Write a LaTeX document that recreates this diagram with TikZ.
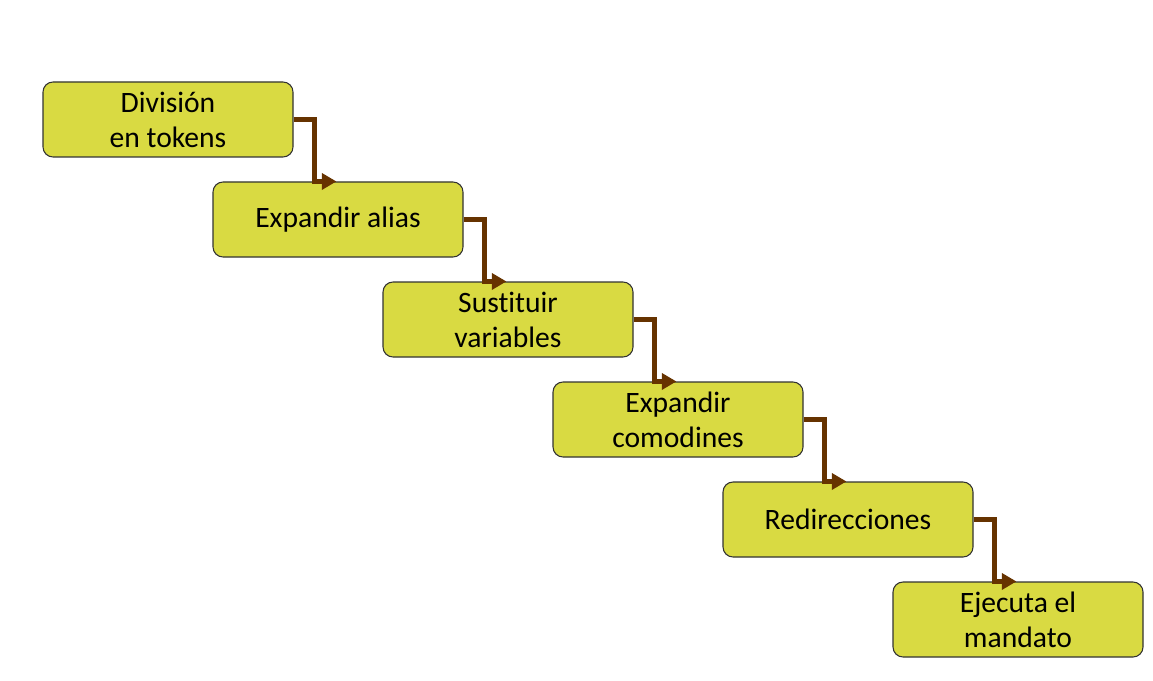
\documentclass[tikz,border=0pt]{standalone}
\usepackage{fontspec}
\setmainfont[Ligatures=NoCommon]{Carlito}
\usepackage{tikz}
\usetikzlibrary{calc}
\usetikzlibrary{arrows.meta}
\usepackage{color}
\definecolor{mustard}{RGB}{217, 218, 66}
\definecolor{umber}{RGB}{102, 51, 0}

\begin{document}
\begin{tikzpicture}[x=0.75pt, y=-0.75pt,
    stage/.style={draw=black!80, line width=0.8pt, fill=mustard, rounded corners=7.5pt,
                  minimum width=187.5pt, minimum height=56.25pt, align=center,
                  inner sep=0pt, font=\fontsize{22.2}{26.25}\selectfont},
    flow/.style={umber, line width=3.6pt, -{Triangle[length=11pt, width=12pt]}}]
            % Frame
            \useasboundingbox (0, 0) rectangle (1153, 681);
            % Stages
            \node[stage] (split)    at ( 168, 119.5) {División\\en tokens};
            \node[stage] (alias)    at ( 338, 219.5) {Expandir alias};
            \node[stage] (vars)     at ( 508, 319.5) {Sustituir\\variables};
            \node[stage] (globs)    at ( 678, 419.5) {Expandir\\comodines};
            \node[stage] (redirect) at ( 848, 519.5) {Redirecciones};
            \node[stage] (run)      at (1018, 619.5) {Ejecuta el\\mandato};
            % Steps
            \draw[flow] (split.east)    -| ($(alias.north west)+(102,0)$)    -- ($(alias.north west)+(124,0)$);
            \draw[flow] (alias.east)    -| ($(vars.north west)+(102,0)$)     -- ($(vars.north west)+(124,0)$);
            \draw[flow] (vars.east)     -| ($(globs.north west)+(102,0)$)    -- ($(globs.north west)+(124,0)$);
            \draw[flow] (globs.east)    -| ($(redirect.north west)+(102,0)$) -- ($(redirect.north west)+(124,0)$);
            \draw[flow] (redirect.east) -| ($(run.north west)+(102,0)$)      -- ($(run.north west)+(124,0)$);
\end{tikzpicture}
\end{document}
